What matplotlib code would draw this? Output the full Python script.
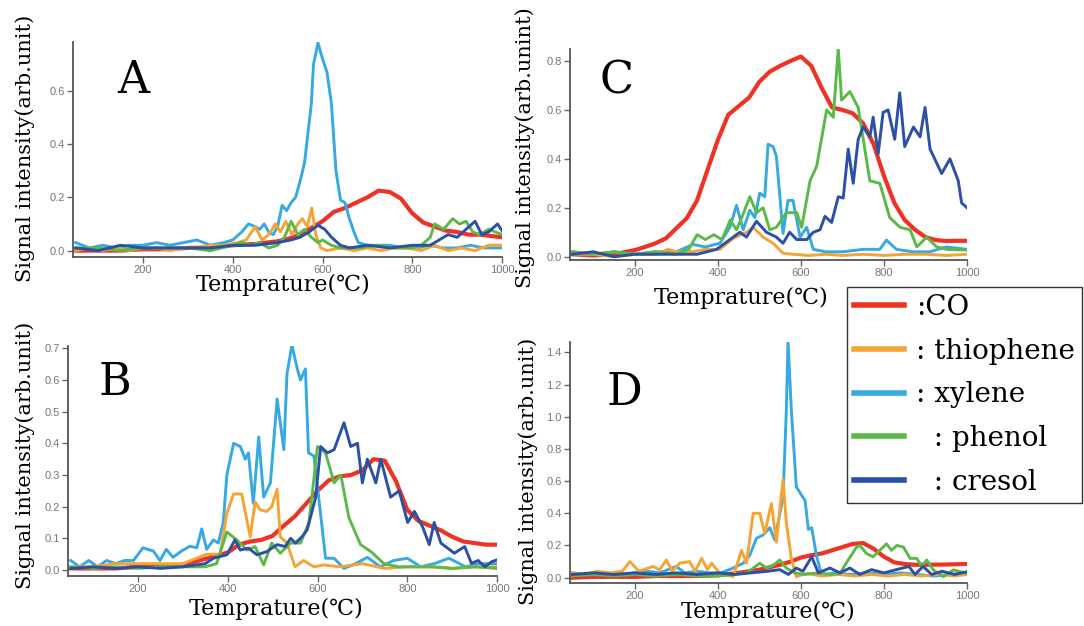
import matplotlib
matplotlib.use("Agg")
import matplotlib.pyplot as plt
from matplotlib.lines import Line2D

# ---------------- data ----------------
# Panel A
A_co_x = [50,100,150,200,250,300,350,400,450,475,500,525,550,575,600,625,650,675,700,725,750,775,800,825,850,875,900,925,950,975,1000]
A_co_y = [.0,.0,.0,.005,.005,.01,.012,.02,.025,.03,.035,.045,.06,.085,.11,.145,.16,.18,.20,.225,.22,.195,.14,.105,.09,.075,.07,.06,.06,.055,.05]
A_th_x = [50,80,110,140,170,200,230,260,290,320,350,380,410,430,450,465,480,495,506,518,532,545,555,566,576,585,596,610,640,670,700,730,760,790,820,850,880,910,940,970,1000]
A_th_y = [.0,.01,.0,.01,.0,.01,.01,.0,.01,.01,.02,.02,.03,.04,.09,.04,.06,.10,.07,.11,.06,.10,.12,.09,.16,.06,.01,.0,.01,.0,.01,.0,.01,.01,.0,.02,.0,.01,.0,.02,.02]
A_xy_x = [50,80,110,140,170,200,230,260,290,320,350,380,400,420,435,450,460,470,480,490,500,510,520,530,540,550,560,575,580,590,600,610,620,630,640,650,660,670,680,700,720,750,780,810,840,870,900,930,960,1000]
A_xy_y = [.03,.01,.02,.01,.02,.02,.03,.02,.03,.04,.02,.03,.04,.07,.10,.09,.08,.10,.07,.06,.09,.17,.15,.18,.20,.26,.33,.55,.70,.78,.72,.67,.55,.30,.19,.18,.12,.07,.03,.02,.02,.02,.01,.01,.02,.01,.01,.02,.01,.01]
A_ph_x = [50,100,150,200,250,300,350,400,420,440,460,480,500,515,530,545,560,575,590,600,620,640,680,720,760,800,820,840,850,870,890,905,920,935,950,970,1000]
A_ph_y = [.01,.01,.0,.01,.01,.01,.0,.02,.03,.02,.03,.01,.02,.05,.11,.06,.08,.05,.03,.04,.02,.01,.01,.02,.01,.01,.02,.05,.10,.08,.12,.10,.11,.07,.06,.08,.06]
A_cr_x = [50,100,150,200,250,300,350,400,450,500,530,550,570,590,605,620,640,660,700,750,800,840,860,880,900,920,940,955,970,990,1000]
A_cr_y = [.01,.0,.02,.01,.01,.01,.01,.02,.02,.03,.04,.05,.07,.095,.08,.05,.02,.01,.02,.01,.02,.02,.04,.06,.05,.08,.11,.06,.07,.10,.075]

# Panel B
B_co_x = [50,100,150,200,250,300,350,375,400,425,450,475,500,525,550,575,600,625,650,675,700,725,750,775,800,825,850,875,900,925,950,975,1000]
B_co_y = [.005,.005,.005,.01,.012,.016,.035,.045,.055,.08,.09,.095,.108,.14,.17,.21,.25,.283,.296,.30,.315,.35,.345,.28,.19,.155,.14,.125,.105,.09,.085,.08,.08]
B_th_x = [50,100,150,200,250,300,331,353,383,398,413,431,450,461,472,487,498,510,517,532,550,569,592,614,650,700,750,800,850,900,950,1000]
B_th_y = [.01,.01,.02,.02,.02,.02,.037,.05,.05,.18,.24,.24,.105,.215,.19,.185,.20,.255,.105,.085,.01,.03,.01,.016,.01,.02,.005,.01,.01,.005,.01,.01]
B_xy_x = [50,70,90,110,130,150,170,190,211,234,249,263,278,297,316,331,342,353,368,379,390,398,413,428,439,446,457,469,480,495,510,525,532,543,555,562,573,580,592,605,618,637,659,685,711,740,770,800,830,860,893,930,960,1000]
B_xy_y = [.03,.01,.03,.01,.03,.02,.03,.03,.07,.06,.03,.065,.04,.06,.075,.07,.13,.065,.095,.085,.15,.30,.40,.39,.35,.37,.21,.42,.23,.275,.54,.38,.62,.71,.635,.60,.635,.37,.36,.20,.037,.037,.005,.02,.04,.01,.03,.037,.01,.02,.037,.01,.02,.02]
B_ph_x = [50,100,150,200,250,300,350,375,398,420,443,461,480,498,517,540,562,581,600,618,637,652,670,696,719,748,780,820,860,900,950,1000]
B_ph_y = [.01,.005,.01,.005,.01,.01,.01,.02,.12,.095,.063,.074,.016,.085,.053,.085,.085,.15,.39,.37,.275,.30,.165,.08,.058,.02,.01,.01,.01,.005,.01,.005]
B_cr_x = [50,100,150,200,250,300,350,368,398,416,428,446,465,487,510,528,540,551,566,577,596,607,622,637,659,674,689,700,711,730,741,763,782,801,816,834,849,860,875,905,928,943,958,973,988,1000]
B_cr_y = [.005,.01,.005,.01,.005,.01,.02,.037,.048,.095,.063,.069,.048,.058,.08,.074,.10,.085,.106,.127,.23,.39,.37,.38,.465,.39,.40,.275,.35,.275,.35,.23,.25,.15,.185,.137,.08,.15,.085,.053,.074,.021,.03,.01,.026,.032]

# Panel C
C_co_x = [50,100,150,200,225,250,275,300,325,350,375,400,425,450,475,500,525,550,575,600,625,650,675,700,725,750,775,800,825,850,875,900,925,950,975,1000]
C_co_y = [.01,.005,.01,.027,.04,.055,.075,.116,.157,.23,.354,.477,.58,.615,.65,.715,.756,.78,.80,.818,.78,.69,.61,.60,.586,.545,.46,.33,.22,.15,.11,.08,.068,.064,.065,.065]
C_th_x = [50,100,150,200,250,280,300,340,370,405,437,469,485,509,533,557,580,620,660,700,750,800,850,900,950,1000]
C_th_y = [.01,.01,.0,.01,.01,.03,.02,.02,.03,.03,.075,.10,.12,.08,.055,.014,.01,.005,.01,.005,.01,.005,.01,.01,.005,.01]
C_xy_x = [50,100,150,200,250,300,340,370,405,429,445,461,477,489,501,513,521,533,541,557,569,581,598,614,630,660,700,750,790,806,830,870,910,950,1000]
C_xy_y = [.02,.01,.02,.01,.02,.02,.05,.04,.055,.12,.21,.11,.19,.16,.26,.245,.46,.45,.41,.095,.23,.23,.08,.12,.03,.02,.02,.03,.03,.068,.03,.02,.02,.04,.03]
C_ph_x = [50,100,150,200,250,300,330,350,370,390,410,430,445,460,477,493,509,525,541,565,590,602,622,638,662,678,690,698,718,738,766,790,814,839,863,879,903,927,952,1000]
C_ph_y = [.02,.01,.02,.01,.02,.01,.03,.09,.07,.09,.07,.15,.11,.17,.245,.18,.20,.11,.12,.18,.18,.12,.31,.37,.60,.57,.85,.64,.675,.61,.31,.30,.16,.12,.11,.04,.08,.04,.03,.027]
C_cr_x = [50,100,150,200,250,300,350,397,429,453,469,493,517,541,557,573,590,614,630,646,658,674,690,702,714,726,738,750,766,774,786,798,810,826,838,850,871,887,899,911,939,959,979,987,1000]
C_cr_y = [.01,.02,.0,.01,.01,.01,.01,.03,.07,.10,.08,.145,.10,.08,.055,.10,.07,.07,.10,.11,.165,.14,.245,.24,.44,.30,.48,.53,.49,.57,.42,.59,.60,.48,.67,.45,.53,.49,.61,.44,.34,.40,.31,.22,.20]

# Panel D
D_co_x = [50,100,150,200,250,300,350,400,450,500,525,550,575,600,625,650,675,700,725,750,775,800,825,850,875,900,950,1000]
D_co_y = [.0,.005,.005,.005,.01,.01,.01,.015,.03,.05,.065,.08,.10,.125,.14,.15,.17,.19,.21,.215,.18,.13,.095,.085,.08,.08,.082,.085]
D_th_x = [50,80,110,140,170,188,210,244,260,276,290,308,332,345,361,375,385,405,437,457,469,485,501,513,529,541,557,565,577,589,614,650,690,730,770,810,850,890,930,970,1000]
D_th_y = [.03,.02,.04,.03,.04,.10,.04,.07,.05,.11,.04,.09,.10,.04,.12,.05,.09,.027,.006,.17,.09,.40,.40,.275,.46,.22,.61,.34,.12,.006,.027,.01,.02,.01,.02,.01,.02,.01,.02,.01,.02]
D_xy_x = [50,80,110,140,170,200,230,260,300,320,350,380,405,437,461,477,493,509,525,537,545,557,565,569,577,589,602,610,618,626,638,650,680,720,760,800,840,880,920,960,1000]
D_xy_y = [.03,.02,.03,.02,.02,.03,.04,.03,.07,.03,.04,.03,.027,.06,.09,.14,.245,.265,.31,.235,.34,.50,1.04,1.47,1.04,.565,.51,.48,.30,.31,.13,.017,.03,.02,.03,.02,.03,.02,.01,.02,.03]
D_ph_x = [50,100,150,200,250,300,350,400,440,470,501,517,535,549,565,585,610,640,670,694,714,734,742,758,774,790,806,818,831,847,863,879,891,903,919,943,967,1000]
D_ph_y = [.01,.02,.01,.02,.01,.02,.01,.01,.02,.03,.09,.06,.08,.11,.06,.03,.02,.03,.02,.027,.11,.19,.20,.15,.13,.17,.21,.17,.20,.19,.12,.12,.07,.11,.048,.006,.048,.027]
D_cr_x = [50,100,150,200,250,300,350,400,440,480,520,549,570,589,605,626,642,670,694,718,742,770,800,830,860,875,894,915,940,970,1000]
D_cr_y = [.02,.03,.02,.03,.02,.03,.02,.03,.02,.03,.04,.05,.02,.06,.04,.13,.03,.06,.03,.06,.02,.05,.03,.05,.07,.02,.07,.02,.04,.02,.037]

series_names = [":CO", ": thiophene", ": xylene", "  : phenol", "  : cresol"]
colors = ["#EE3224", "#F5A433", "#36A9E1", "#5BB947", "#2A51A5"]
x_ticks = [200, 400, 600, 800, 1000]
x_tick_labels = ["200", "400", "600", "800", "1000"]

panels = {
    "A": dict(data=[(A_co_x, A_co_y), (A_th_x, A_th_y), (A_xy_x, A_xy_y), (A_ph_x, A_ph_y), (A_cr_x, A_cr_y)],
              yticks=[0.0, 0.2, 0.4, 0.6], ylim=(-0.024, 0.783),
              rect=[73/1084, 1-257/626, 429/1084, 215/626], letter=(0.14, 0.82),
              xlab=(283, 285), ylab=(25, 148), ytext="Signal intensity(arb.unit)"),
    "B": dict(data=[(B_co_x, B_co_y), (B_th_x, B_th_y), (B_xy_x, B_xy_y), (B_ph_x, B_ph_y), (B_cr_x, B_cr_y)],
              yticks=[0.0, 0.1, 0.2, 0.3, 0.4, 0.5, 0.6, 0.7], ylim=(-0.019, 0.7074),
              rect=[68/1084, 1-576/626, 429/1084, 230/626], letter=(0.11, 0.84),
              xlab=(276, 609), ylab=(25, 455), ytext="Signal intensity(arb.unit)"),
    "C": dict(data=[(C_co_x, C_co_y), (C_th_x, C_th_y), (C_xy_x, C_xy_y), (C_ph_x, C_ph_y), (C_cr_x, C_cr_y)],
              yticks=[0.0, 0.2, 0.4, 0.6, 0.8], ylim=(-0.0135, 0.849),
              rect=[570/1084, 1-260/626, 397/1084, 211/626], letter=(0.118, 0.85),
              xlab=(741, 298), ylab=(525, 148), ytext="Signal intensity(arb.unint)"),
    "D": dict(data=[(D_co_x, D_co_y), (D_th_x, D_th_y), (D_xy_x, D_xy_y), (D_ph_x, D_ph_y), (D_cr_x, D_cr_y)],
              yticks=[0.0, 0.2, 0.4, 0.6, 0.8, 1.0, 1.2, 1.4], ylim=(-0.033, 1.464),
              rect=[570/1084, 1-583/626, 397/1084, 241/626], letter=(0.136, 0.79),
              xlab=(768, 612), ylab=(528, 471), ytext="Signal intensity(arb.unit)"),
}

W, H = 1084, 626
fig = plt.figure(figsize=(W/100, H/100), dpi=100)
serif = ["DejaVu Serif", "DejaVu Sans"]
order = [0, 2, 1, 3, 4]  # draw CO first, then xylene, thiophene, phenol, cresol

for key, p in panels.items():
    ax = fig.add_axes(p["rect"])
    for i in order:
        xs, ys = p["data"][i]
        ax.plot(xs, ys, color=colors[i], lw=3.0 if i == 0 else 2.1, solid_joinstyle="round")
    ax.set_xlim(44, 1000)
    ax.set_ylim(*p["ylim"])
    ax.set_xticks(x_ticks)
    ax.set_xticklabels(x_tick_labels)
    ax.set_yticks(p["yticks"])
    ax.set_yticklabels([f"{v:.1f}" for v in p["yticks"]])
    for s in ["top", "right"]:
        ax.spines[s].set_visible(False)
    for s in ["left", "bottom"]:
        ax.spines[s].set_color("#555555")
        ax.spines[s].set_linewidth(1.3)
    ax.tick_params(direction="out", length=4, width=1, color="#666666",
                   labelcolor="#777777", labelsize=8, pad=2)
    for lab in ax.get_xticklabels() + ax.get_yticklabels():
        lab.set_family("Liberation Sans")
    ax.patch.set_alpha(0)
    ax.text(p["letter"][0], p["letter"][1], key, transform=ax.transAxes,
            ha="center", va="center", fontsize=32, family=serif)
    fig.text(p["xlab"][0]/W, 1-p["xlab"][1]/H, "Temprature(\u2103)", ha="center", va="center",
             fontsize=16, family=serif)
    fig.text(p["ylab"][0]/W, 1-p["ylab"][1]/H, p["ytext"], ha="center", va="center",
             rotation=90, fontsize=15, family=serif)

handles = [Line2D([], [], color=c, lw=4) for c in colors]
leg = fig.legend(handles, series_names, loc="upper left",
                 bbox_to_anchor=(847/W, 1-287/H), borderaxespad=0,
                 prop={"family": serif, "size": 20}, frameon=True, fancybox=False,
                 edgecolor="#333333", framealpha=1, borderpad=0.25,
                 handlelength=1.8, handletextpad=0.45, labelspacing=0.6)
leg.get_frame().set_linewidth(1.0)

fig.savefig("out.png", dpi=100)
